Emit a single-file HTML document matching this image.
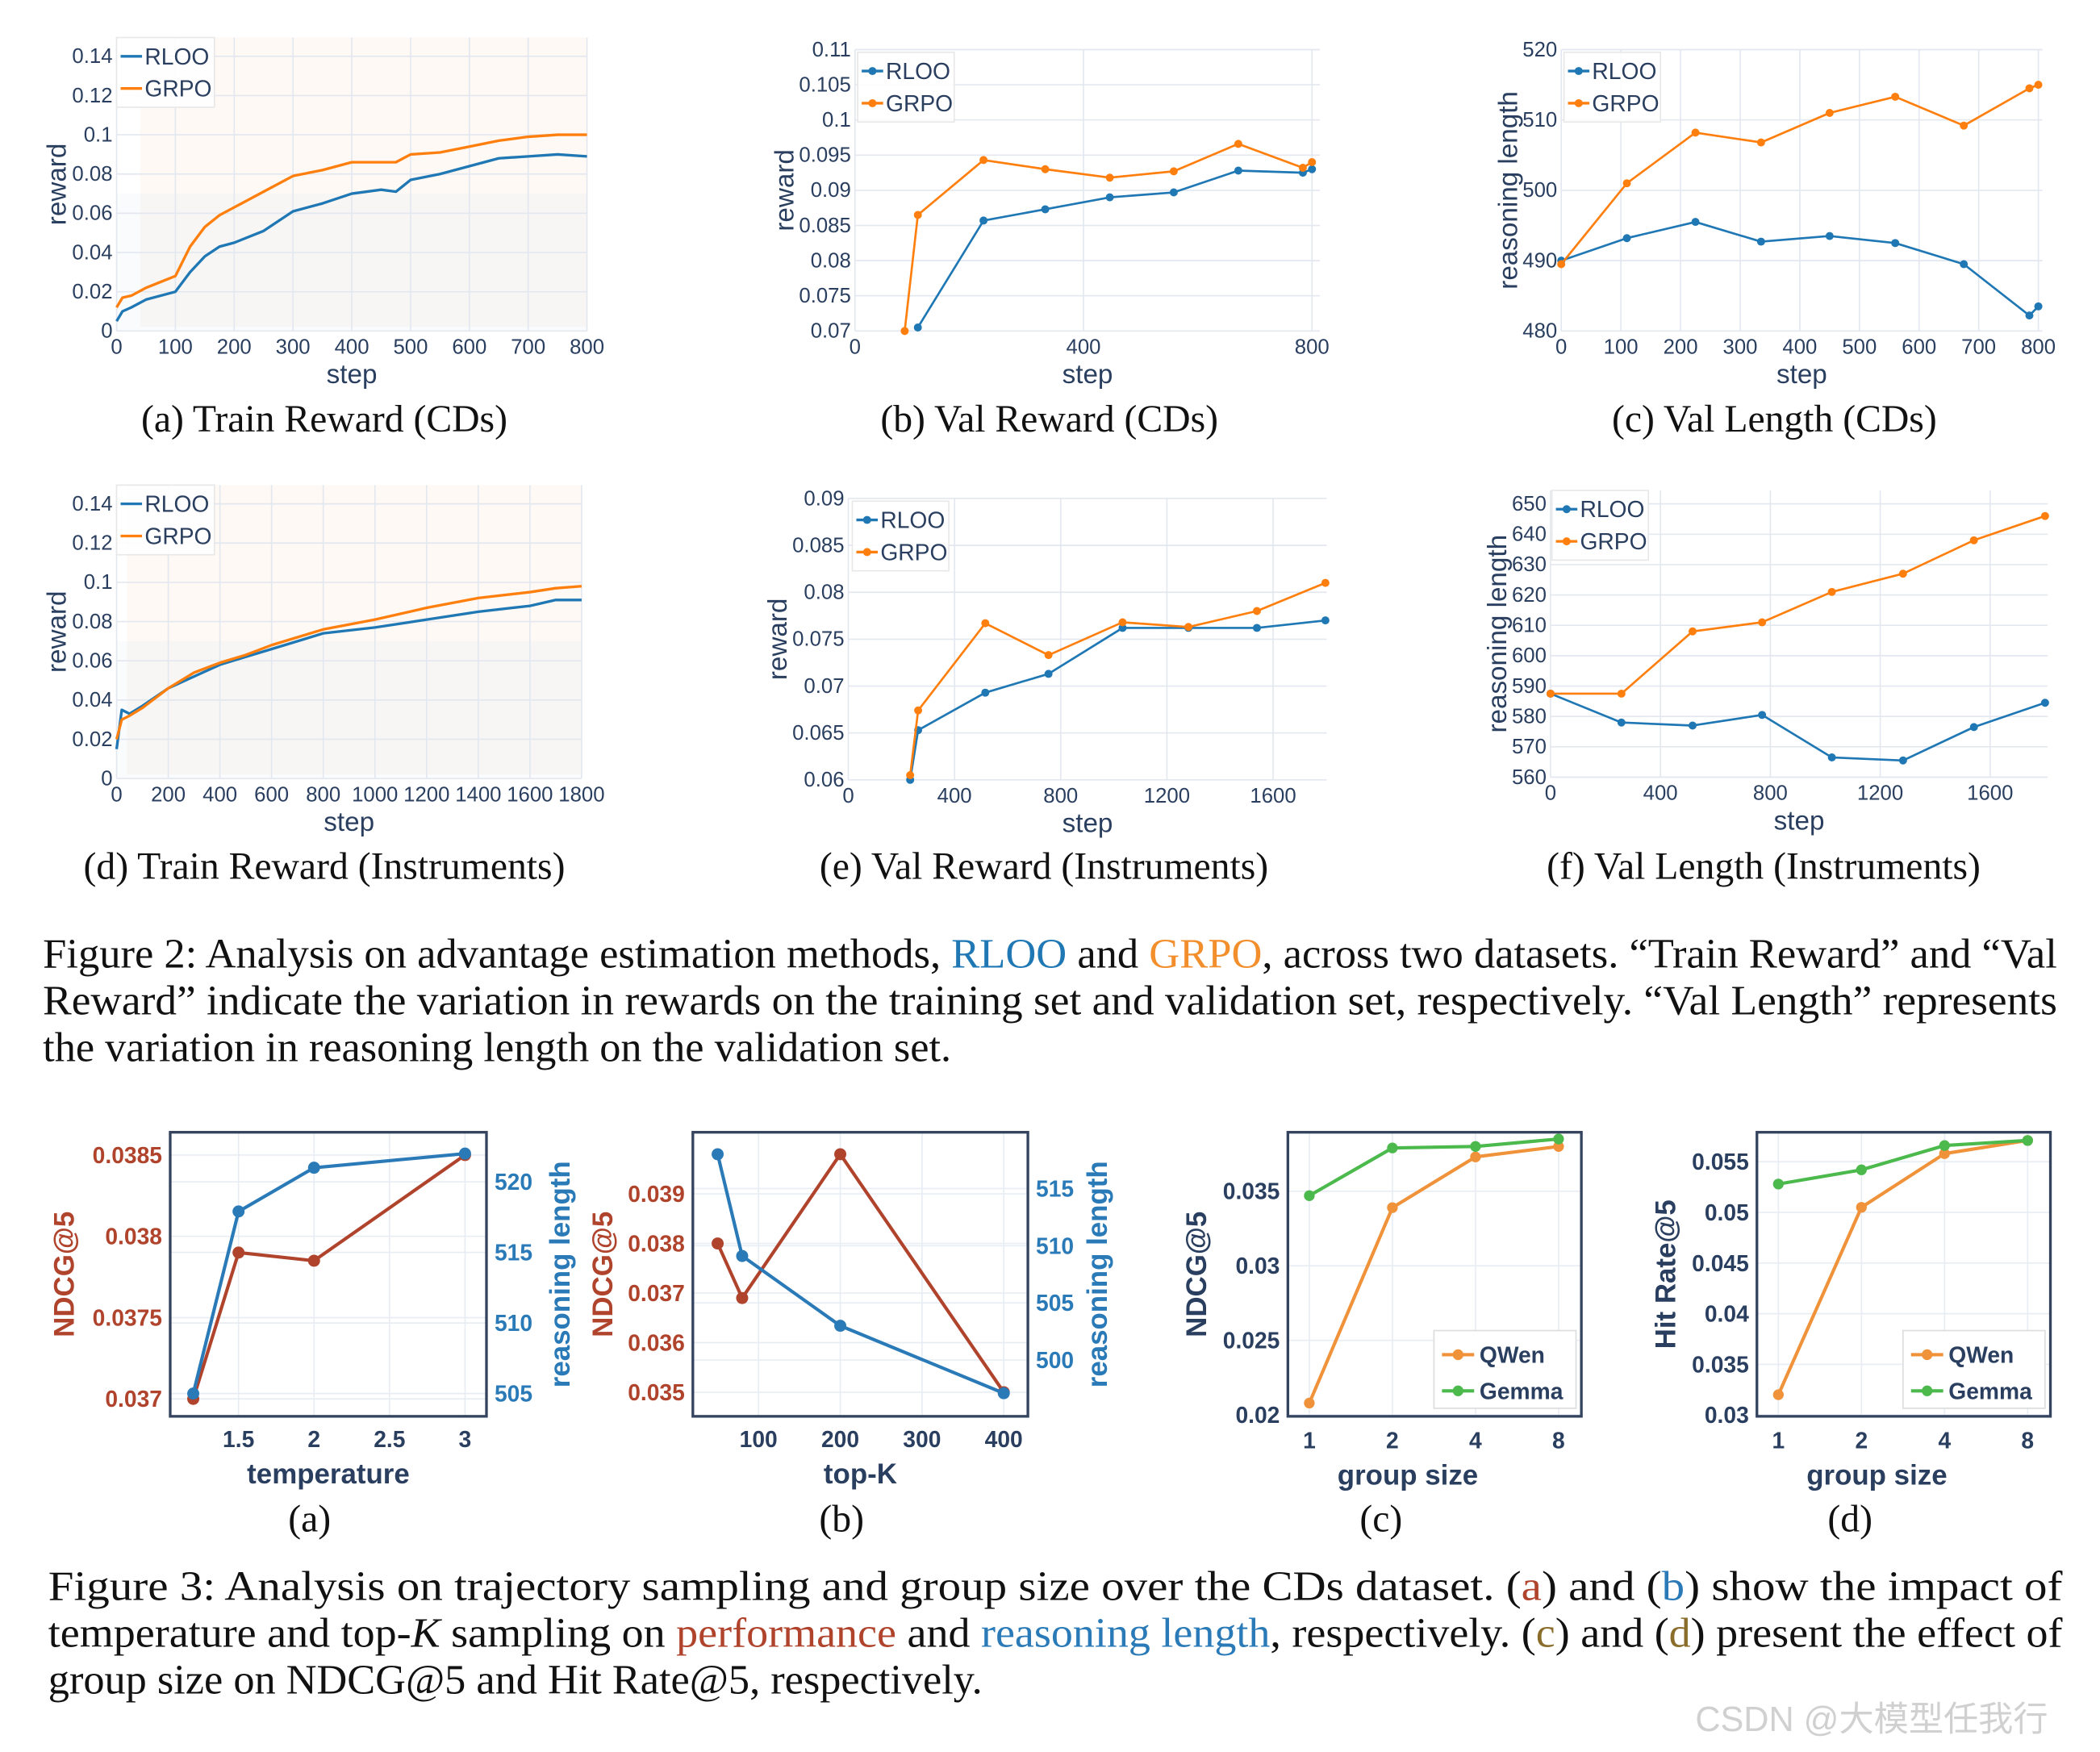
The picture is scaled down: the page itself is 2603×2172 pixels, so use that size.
<!DOCTYPE html>
<html><head><meta charset="utf-8"><style>
html,body{margin:0;padding:0;background:#fff;}
svg{display:block;}
.tk{font-family:"Liberation Sans",sans-serif;fill:#2a3f5f;}
.cap{font-family:"Liberation Serif",serif;font-size:28.7px;fill:#111;}
.fc{font-family:"Liberation Serif",serif;font-size:31.5px;fill:#111;}
.b{font-family:"Liberation Sans",sans-serif;font-weight:bold;}
</style></head><body>
<svg id="fig" xmlns="http://www.w3.org/2000/svg" width="2603" height="2172" viewBox="0 0 1567 1307.5">
<rect width="1567" height="1308" fill="#fff"/>
<g id="root"></g>
<text class="fc" x="32" y="722" textLength="1503" lengthAdjust="spacingAndGlyphs">Figure 2: Analysis on advantage estimation methods, <tspan fill="#1f77b4">RLOO</tspan> and <tspan fill="#f28e2b">GRPO</tspan>, across two datasets. “Train Reward” and “Val</text>
<text class="fc" x="32" y="757" textLength="1503" lengthAdjust="spacingAndGlyphs">Reward” indicate the variation in rewards on the training set and validation set, respectively. “Val Length” represents</text>
<text class="fc" x="32" y="792">the variation in reasoning length on the validation set.</text>
<text class="fc" x="36" y="1194" textLength="1503" lengthAdjust="spacingAndGlyphs">Figure 3: Analysis on trajectory sampling and group size over the CDs dataset. (<tspan fill="#b0432c">a</tspan>) and (<tspan fill="#2a7ab8">b</tspan>) show the impact of</text>
<text class="fc" x="36" y="1229" textLength="1503" lengthAdjust="spacingAndGlyphs">temperature and top-<tspan font-style="italic">K</tspan> sampling on <tspan fill="#b0432c">performance</tspan> and <tspan fill="#2a7ab8">reasoning length</tspan>, respectively. (<tspan fill="#8a6d2b">c</tspan>) and (<tspan fill="#8a6d2b">d</tspan>) present the effect of</text>
<text class="fc" x="36" y="1264">group size on NDCG@5 and Hit Rate@5, respectively.</text>
<text x="1265" y="1292" font-family="'Liberation Sans','Noto Sans CJK SC',sans-serif" font-size="26" fill="#d0d0d0">CSDN @大模型任我行</text>
</svg>
<script>
// ---------- Figure 2 data ----------
const aStepR=[0,10,25,50,100,125,150,175,200,250,300,350,400,450,475,500,550,600,650,700,750,800];
const aRLOO=[0.005,0.01,0.012,0.016,0.02,0.03,0.038,0.043,0.045,0.051,0.061,0.065,0.07,0.072,0.071,0.077,0.08,0.084,0.088,0.089,0.09,0.089];
const aGRPO=[0.012,0.017,0.018,0.022,0.028,0.043,0.053,0.059,0.063,0.071,0.079,0.082,0.086,0.086,0.086,0.09,0.091,0.094,0.097,0.099,0.1,0.1];
const dStep=[0,20,50,100,200,300,400,500,600,800,1000,1200,1400,1600,1700,1800];
const dRLOO=[0.015,0.035,0.033,0.037,0.046,0.052,0.058,0.062,0.066,0.074,0.077,0.081,0.085,0.088,0.091,0.091];
const dGRPO=[0.02,0.03,0.032,0.036,0.046,0.054,0.059,0.063,0.068,0.076,0.081,0.087,0.092,0.095,0.097,0.098];
const bStepR=[110,225,333,446,558,671,784,800];
const bRLOO=[0.0705,0.0857,0.0873,0.089,0.0897,0.0928,0.0925,0.093];
const bStepG=[87,110,225,333,446,558,671,784,800];
const bGRPO=[0.07,0.0865,0.0943,0.093,0.0918,0.0927,0.0966,0.0932,0.094];
const cStep=[0,110,225,335,450,560,675,785,800];
const cRLOO=[490,493.2,495.5,492.7,493.5,492.5,489.5,482.2,483.5];
const cGRPO=[489.5,501,508.2,506.8,511,513.3,509.2,514.5,515];
const eStep=[233,263,516,754,1033,1281,1539,1797];
const eRLOO=[0.06,0.0653,0.0693,0.0713,0.0762,0.0762,0.0762,0.077];
const eGRPO=[0.0605,0.0674,0.0767,0.0733,0.0768,0.0763,0.078,0.081];
const fStep=[0,258,517,770,1024,1283,1541,1800];
const fRLOO=[587.5,578,577,580.5,566.5,565.5,576.5,584.5];
const fGRPO=[587.5,587.5,608,611,621,627,638,646];
// ---------- Figure 3 data ----------
const tTemp=[1.2,1.5,2,3];
const tNDCG=[0.037,0.0379,0.03785,0.0385];
const tLen=[505,517.9,521,522];
const kTop=[50,80,200,400];
const kNDCG=[0.038,0.0369,0.0398,0.035];
const kLen=[518,509.1,503,497.1];
const gSizes=['1','2','4','8'];
const cQwen=[0.0208,0.0339,0.0373,0.038];
const cGemma=[0.0347,0.0379,0.038,0.0385];
const hQwen=[0.032,0.0505,0.0558,0.0571];
const hGemma=[0.0528,0.0542,0.0566,0.0571];

const NS='http://www.w3.org/2000/svg';
const root=document.getElementById('root');
function mk(tag,at,parent,txt){const e=document.createElementNS(NS,tag);for(const k in at)e.setAttribute(k,at[k]);if(txt!==undefined)e.textContent=txt;(parent||root).appendChild(e);return e;}
function sc(d0,d1,p0,p1){return v=>p0+(v-d0)/(d1-d0)*(p1-p0);}
const BLUE='#1f77b4',ORANGE='#ff7f0e';

function series(g,xs,ys,sx,sy,color,name,markers,w){
  const pts=xs.map((x,i)=>sx(x).toFixed(2)+','+sy(ys[i]).toFixed(2)).join(' ');
  const pl=mk('polyline',{points:pts,fill:'none',stroke:color,'stroke-width':w||2,'stroke-linejoin':'round'},g);
  
  
  if(markers){xs.forEach((x,i)=>{const c=mk('circle',{cx:sx(x),cy:sy(ys[i]),r:markers,fill:color},g);
    
    });}
}

function plotly(cfg){
  const g=mk('g',{});
  
  
  const sx=sc(cfg.xd[0],cfg.xd[1],cfg.xp[0],cfg.xp[1]);
  const sy=sc(cfg.yd[0],cfg.yd[1],cfg.yp[0],cfg.yp[1]);
  const L=cfg.xp[0],R=cfg.right,B=cfg.yp[0],T=cfg.top;
  if(cfg.noise){
    const n1=mk('rect',{x:sx(cfg.noise),y:T,width:R-sx(cfg.noise),height:B-T-3,fill:'#fbe3cc',opacity:0.22},g);
    
    
    mk('rect',{x:L,y:sy(0.07),width:R-L,height:B-sy(0.07),fill:'#dfe9f3',opacity:0.18},g);
  }
  cfg.xt.forEach(v=>{mk('line',{x1:sx(v),x2:sx(v),y1:T,y2:B,stroke:'#e3e8f0','stroke-width':1},g);
    const t=mk('text',{x:sx(v),y:B+17,class:'tk',style:'font-size:15.5px','text-anchor':'middle'},g,String(v));
    
    });
  cfg.yt.forEach((v,i)=>{mk('line',{x1:L,x2:R,y1:sy(v),y2:sy(v),stroke:'#e3e8f0','stroke-width':1},g);
    const t=mk('text',{x:L-3,y:sy(v)+5,class:'tk',style:'font-size:15.5px','text-anchor':'end'},g,cfg.yl[i]);
    
    });
  const m=cfg.markers?3:0, w=cfg.markers?1.6:2;
  series(g,cfg.x1,cfg.r,sx,sy,BLUE,'rloo',m,w);
  series(g,cfg.x2,cfg.gp,sx,sy,ORANGE,'grpo',m,w);
  const xt=mk('text',{x:(L+R)/2,y:B+39,class:'tk',style:'font-size:20px','text-anchor':'middle'},g,'step');
  
  
  const yt=mk('text',{x:0,y:0,class:'tk',style:'font-size:20px','text-anchor':'middle',transform:`translate(${cfg.ytx},${(T+B)/2}) rotate(-90)`},g,cfg.ytitle);
  
  
  const lg=mk('g',{},g);
  
  
  const lx=cfg.leg[0],ly=cfg.leg[1];
  mk('rect',{x:lx,y:ly,width:cfg.leg[2],height:52,fill:'#fff',stroke:'#e8e8e8','fill-opacity':0.85},lg);
  [['RLOO',BLUE],['GRPO',ORANGE]].forEach((s,i)=>{const yy=ly+14+i*24;
    mk('line',{x1:lx+3,x2:lx+19,y1:yy,y2:yy,stroke:s[1],'stroke-width':2},lg);
    if(cfg.markers)mk('circle',{cx:lx+11,cy:yy,r:3,fill:s[1]},lg);
    const t=mk('text',{x:lx+21,y:yy+6,class:'tk',style:'font-size:17px'},lg,s[0]);
    
    });
  const c=mk('text',{x:cfg.capx,y:cfg.capy,class:'cap','text-anchor':'middle'},g,cfg.cap);
  
  
}
function range(a,b,s){const r=[];for(let v=a;v<=b+1e-9;v+=s)r.push(+v.toFixed(6));return r;}

plotly({name:'train-reward-cds',xd:[0,800],xp:[87,438],right:438,yd:[0,0.14],yp:[247,42],top:28,noise:40,
  xt:range(0,800,100),yt:range(0,0.14,0.02),yl:['0','0.02','0.04','0.06','0.08','0.1','0.12','0.14'],
  x1:aStepR,r:aRLOO,x2:aStepR,gp:aGRPO,ytitle:'reward',ytx:49,leg:[87,28,73],cap:'(a) Train Reward (CDs)',capx:242,capy:322});
plotly({name:'val-reward-cds',xd:[0,800],xp:[638,979],right:985,yd:[0.07,0.11],yp:[247,37],top:37,
  xt:[0,400,800],yt:range(0.07,0.11,0.005),yl:['0.07','0.075','0.08','0.085','0.09','0.095','0.1','0.105','0.11'],
  x1:bStepR,r:bRLOO,x2:bStepG,gp:bGRPO,markers:true,ytitle:'reward',ytx:592,leg:[640,39,72],cap:'(b) Val Reward (CDs)',capx:783,capy:322});
plotly({name:'val-length-cds',xd:[0,800],xp:[1165,1521],right:1524,yd:[480,520],yp:[247,37],top:37,
  xt:range(0,800,100),yt:range(480,520,10),yl:['480','490','500','510','520'],
  x1:cStep,r:cRLOO,x2:cStep,gp:cGRPO,markers:true,ytitle:'reasoning length',ytx:1132,leg:[1167,39,72],cap:'(c) Val Length (CDs)',capx:1324,capy:322});
plotly({name:'train-reward-instruments',xd:[0,1800],xp:[87,434],right:434,yd:[0,0.14],yp:[581,376],top:362,noise:40,
  xt:range(0,1800,200),yt:range(0,0.14,0.02),yl:['0','0.02','0.04','0.06','0.08','0.1','0.12','0.14'],
  x1:dStep,r:dRLOO,x2:dStep,gp:dGRPO,ytitle:'reward',ytx:49,leg:[87,362,73],cap:'(d) Train Reward (Instruments)',capx:242,capy:656});
plotly({name:'val-reward-instruments',xd:[0,1800],xp:[633,989.6],right:990,yd:[0.06,0.09],yp:[582,372],top:372,
  xt:[0,400,800,1200,1600],yt:range(0.06,0.09,0.005),yl:['0.06','0.065','0.07','0.075','0.08','0.085','0.09'],
  x1:eStep,r:eRLOO,x2:eStep,gp:eGRPO,markers:true,ytitle:'reward',ytx:587,leg:[636,374,72],cap:'(e) Val Reward (Instruments)',capx:779,capy:656});
plotly({name:'val-length-instruments',xd:[0,1800],xp:[1157,1526],right:1528,yd:[560,650],yp:[580,376],top:366,
  xt:[0,400,800,1200,1600],yt:range(560,650,10),yl:['560','570','580','590','600','610','620','630','640','650'],
  x1:fStep,r:fRLOO,x2:fStep,gp:fGRPO,markers:true,ytitle:'reasoning length',ytx:1124,leg:[1158,366,72],cap:'(f) Val Length (Instruments)',capx:1316,capy:656});

// ---------- Figure 3 ----------
const RED='#b0432c',DB='#2a7ab8',TK='#2a3f5f',OR3='#f0923a',GR3='#4cb94c';
function frame(g,x0,y0,x1,y1){const f=mk('rect',{x:x0,y:y0,width:x1-x0,height:y1-y0,fill:'none',stroke:'#34435e','stroke-width':2},g);
  
  }
function lbl(g,x,y,txt,color,anchor,size,name,rot){
  const t=mk('text',{x:rot?0:x,y:rot?0:y,class:'b','font-size':size||17,fill:color,'text-anchor':anchor||'middle'},g,txt);
  if(rot)t.setAttribute('transform',`translate(${x},${y}) rotate(-90)`);
  
  return t;}

function dual(cfg){
  const g=mk('g',{});
  
  
  const [x0,y0,x1,y1]=cfg.box;
  const sx=sc(cfg.xd[0],cfg.xd[1],cfg.xp[0],cfg.xp[1]);
  const sl=sc(cfg.ld[0],cfg.ld[1],cfg.lp[0],cfg.lp[1]);
  const sr=sc(cfg.rd[0],cfg.rd[1],cfg.rp[0],cfg.rp[1]);
  cfg.xt.forEach(v=>{mk('line',{x1:sx(v),x2:sx(v),y1:y0,y2:y1,stroke:'#e8edf4'},g);lbl(g,sx(v),y1+23,String(v),TK,'middle',17,'x-tick-label');});
  cfg.lt.forEach((v,i)=>{mk('line',{x1:x0,x2:x1,y1:sl(v),y2:sl(v),stroke:'#e8edf4'},g);lbl(g,x0-6,sl(v)+6,cfg.ll[i],RED,'end',17,'left-tick-label');});
  cfg.rt.forEach(v=>{mk('line',{x1:x0,x2:x1,y1:sr(v),y2:sr(v),stroke:'#e8edf4'},g);lbl(g,x1+6,sr(v)+6,String(v),DB,'start',17,'right-tick-label');});
  frame(g,x0,y0,x1,y1);
  series(g,cfg.xs,cfg.l,sx,sl,RED,'ndcg',4.5,2.5);
  series(g,cfg.xs,cfg.r,sx,sr,DB,'reasoning-length',4.5,2.5);
  lbl(g,(x0+x1)/2,y1+50,cfg.xtitle,TK,'middle',21,'x-axis-title');
  lbl(g,cfg.ltx,(y0+y1)/2,'NDCG@5',RED,'middle',21,'left-axis-title',true);
  lbl(g,cfg.rtx,(y0+y1)/2,'reasoning length',DB,'middle',21,'right-axis-title',true);
  const c=mk('text',{x:(x0+x1)/2-14,y:1143,class:'cap','text-anchor':'middle'},g,cfg.cap);
  
  
}
dual({name:'temperature-plot',box:[127,845,363,1057],xd:[1.5,3],xp:[178,347],ld:[0.037,0.0385],lp:[1044,862],rd:[505,520],rp:[1040,882],
  xt:[1.5,2,2.5,3],lt:[0.037,0.0375,0.038,0.0385],ll:['0.037','0.0375','0.038','0.0385'],rt:[505,510,515,520],
  xs:tTemp,l:tNDCG,r:tLen,xtitle:'temperature',ltx:55,rtx:425,cap:'(a)'});
dual({name:'topk-plot',box:[517,845,767,1057],xd:[100,400],xp:[566,749],ld:[0.035,0.039],lp:[1039,891],rd:[500,515],rp:[1015,887],
  xt:[100,200,300,400],lt:[0.035,0.036,0.037,0.038,0.039],ll:['0.035','0.036','0.037','0.038','0.039'],rt:[500,505,510,515],
  xs:kTop,l:kNDCG,r:kLen,xtitle:'top-K',ltx:457,rtx:826,cap:'(b)'});

function grp(cfg){
  const g=mk('g',{});
  
  
  const [x0,y0,x1,y1]=cfg.box;
  const sx=i=>cfg.xp[0]+i*(cfg.xp[1]-cfg.xp[0])/(gSizes.length-1);
  const sy=sc(cfg.yd[0],cfg.yd[1],cfg.yp[0],cfg.yp[1]);
  gSizes.forEach((s,i)=>{mk('line',{x1:sx(i),x2:sx(i),y1:y0,y2:y1,stroke:'#e8edf4'},g);lbl(g,sx(i),y1+24,s,TK,'middle',17,'x-tick-label');});
  cfg.yt.forEach((v,i)=>{mk('line',{x1:x0,x2:x1,y1:sy(v),y2:sy(v),stroke:'#e8edf4'},g);lbl(g,x0-6,sy(v)+6,cfg.yl[i],TK,'end',17,'y-tick-label');});
  frame(g,x0,y0,x1,y1);
  const idx=gSizes.map((s,i)=>i);
  series(g,idx,cfg.q,sx,sy,OR3,'qwen',4,2.5);
  series(g,idx,cfg.gm,sx,sy,GR3,'gemma',4,2.5);
  const lg=mk('g',{},g);
  
  
  mk('rect',{x:x1-110,y:y1-64,width:106,height:58,fill:'#fff',stroke:'#ddd'},lg);
  [['QWen',OR3],['Gemma',GR3]].forEach((s,i)=>{const yy=y1-46+i*27;
    mk('line',{x1:x1-104,x2:x1-80,y1:yy,y2:yy,stroke:s[1],'stroke-width':2.5},lg);
    mk('circle',{cx:x1-92,cy:yy,r:4,fill:s[1]},lg);
    lbl(lg,x1-76,yy+6,s[0],TK,'start',17,'legend-entry');});
  lbl(g,(x0+x1)/2-20,y1+51,'group size',TK,'middle',21,'x-axis-title');
  lbl(g,cfg.ytx,(y0+y1)/2,cfg.ytitle,TK,'middle',21,'y-axis-title',true);
  const c=mk('text',{x:(x0+x1)/2-40,y:1143,class:'cap','text-anchor':'middle'},g,cfg.cap);
  
  
}
grp({name:'group-size-ndcg',box:[961,845,1180,1057],xp:[977,1163],yd:[0.02,0.035],yp:[1056,889],
  yt:[0.02,0.025,0.03,0.035],yl:['0.02','0.025','0.03','0.035'],q:cQwen,gm:cGemma,ytitle:'NDCG@5',ytx:900,cap:'(c)'});
grp({name:'group-size-hitrate',box:[1311,845,1530,1057],xp:[1327,1513],yd:[0.03,0.055],yp:[1056,867],
  yt:[0.03,0.035,0.04,0.045,0.05,0.055],yl:['0.03','0.035','0.04','0.045','0.05','0.055'],q:hQwen,gm:hGemma,ytitle:'Hit Rate@5',ytx:1250,cap:'(d)'});
</script>
</body></html>
